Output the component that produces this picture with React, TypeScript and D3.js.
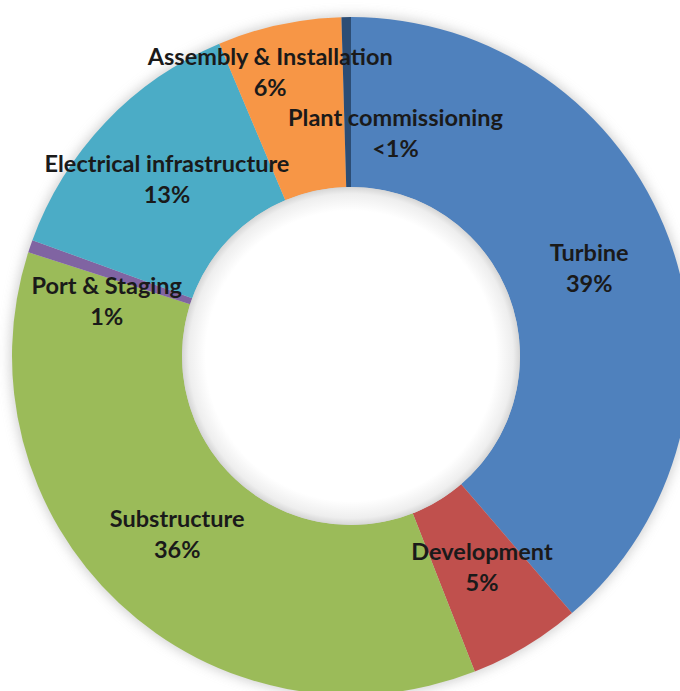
import React from "react";
import * as d3 from "d3";

const categories = [
  "Turbine",
  "Development",
  "Substructure",
  "Port & Staging",
  "Electrical infrastructure",
  "Assembly & Installation",
  "Plant commissioning",
];
const values = [38.7, 5.35, 35.9, 0.6, 13.1, 5.9, 0.45];
const valueLabels = ["39%", "5%", "36%", "1%", "13%", "6%", "<1%"];
const colors = ["#4F81BD", "#C0504D", "#9BBB59", "#8064A2", "#4BACC6", "#F79646", "#2C4D75"];
// manual label nudges (layout), relative to the arc centroid
const labelNudge: [number, number][] = [
  [0, 0],
  [0, -7],
  [0, -8],
  [-4, 27],
  [0, -2],
  [-27, -36],
  [48, 30],
];

const W = 680;
const H = 691;
const cx = 351;
const cy = 356;
const outerR = 339;
const innerR = 169;

export default function App() {
  const data = categories.map((c, i) => ({ c, v: values[i], i }));
  const pie = d3
    .pie<any>()
    .value((d) => d.v)
    .sort(null)
    .startAngle(0)
    .endAngle(2 * Math.PI);
  const arcs = pie(data);
  const arcGen = d3.arc<any>().innerRadius(innerR).outerRadius(outerR);
  const labelArc = d3.arc<any>().innerRadius(254).outerRadius(254);

  return (
    <svg
      width={W}
      height={H}
      style={{ position: "absolute", left: 0, top: 0, background: "#fff" }}
    >
      <defs>
        <filter id="shadow" x="-20%" y="-20%" width="140%" height="140%">
          <feGaussianBlur stdDeviation="6" />
        </filter>
        <radialGradient id="hole" cx="50%" cy="50%" r="50%">
          <stop offset="0.86" stopColor="#ffffff" />
          <stop offset="0.96" stopColor="#eeeeee" />
          <stop offset="1" stopColor="#d6d6d6" />
        </radialGradient>
      </defs>
      <g transform={`translate(${cx},${cy})`}>
        <circle r={outerR + 2} fill="#bdbdbd" filter="url(#shadow)" opacity={0.7} />
        {arcs.map((a, i) => (
          <path key={i} d={arcGen(a) as string} fill={colors[i]} />
        ))}
        <circle r={innerR} fill="url(#hole)" />
        {arcs.map((a, i) => {
          const [x, y] = labelArc.centroid(a);
          const lx = x + labelNudge[i][0];
          const ly = y + labelNudge[i][1];
          return (
            <text
              key={"t" + i}
              x={lx}
              y={ly}
              textAnchor="middle"
              fontFamily="Lato, 'Open Sans', sans-serif"
              fontWeight="bold"
              fontSize={23.5}
              fill="#1a1a1a"
            >
              <tspan x={lx} dy={-15.5} dominantBaseline="central">
                {categories[i]}
              </tspan>
              <tspan x={lx} dy={31} dominantBaseline="central">
                {valueLabels[i]}
              </tspan>
            </text>
          );
        })}
      </g>
    </svg>
  );
}
